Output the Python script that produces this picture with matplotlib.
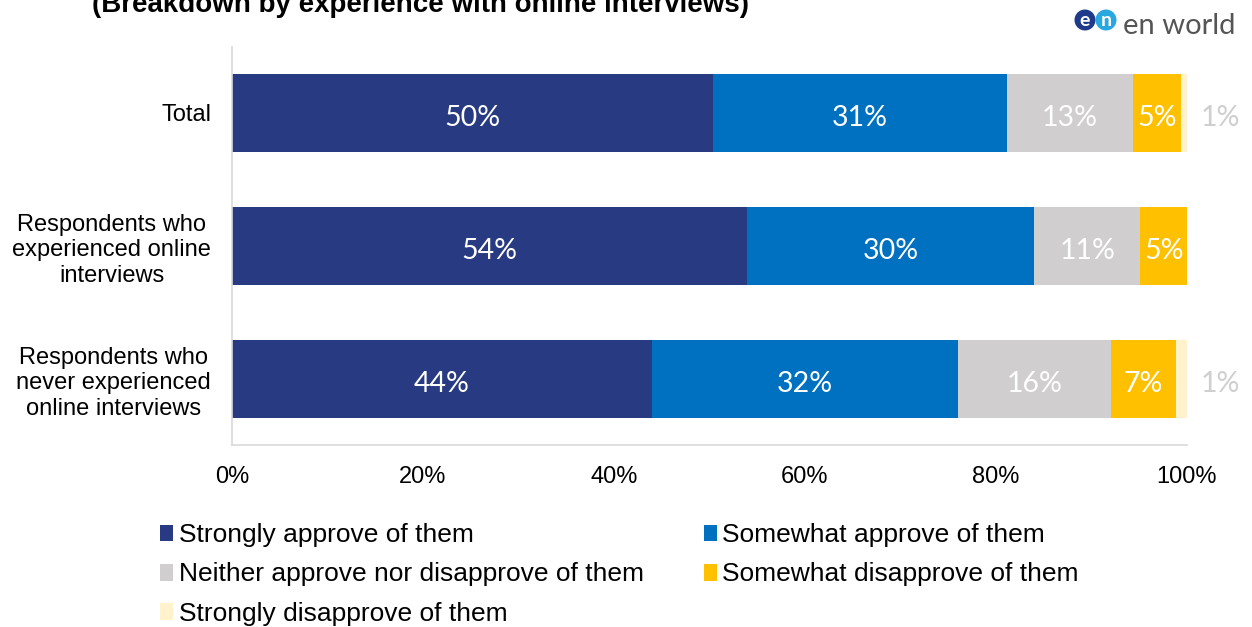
import matplotlib
matplotlib.use("Agg")
import matplotlib.pyplot as plt
from matplotlib.patches import Ellipse, Patch
from matplotlib.transforms import offset_copy
import numpy as np

# ---- data ----
categories = [
    "Total",
    "Respondents who\nexperienced online\ninterviews",
    "Respondents who\nnever experienced\nonline interviews",
]
series_names = [
    "Strongly approve of them",
    "Somewhat approve of them",
    "Neither approve nor disapprove of them",
    "Somewhat disapprove of them",
    "Strongly disapprove of them",
]
strongly_approve = [50.4, 53.9, 44.0]
somewhat_approve = [30.7, 30.1, 32.0]
neither = [13.2, 11.1, 16.0]
somewhat_disapprove = [5.1, 4.9, 6.9]
strongly_disapprove = [0.6, 0.0, 1.1]
x_ticks = [0, 20, 40, 60, 80, 100]
x_tick_labels = ["0%", "20%", "40%", "60%", "80%", "100%"]

series = [strongly_approve, somewhat_approve, neither,
          somewhat_disapprove, strongly_disapprove]
colors = ["#283B82", "#0070C0", "#D0CECE", "#FFC000", "#FFF2CC"]

W, H = 1252, 627
fig = plt.figure(figsize=(W / 100, H / 100), dpi=100)
ax = fig.add_axes([232 / W, 1 - 445 / H, (1187 - 232) / W, (445 - 47) / H])

# value labels sit a few points below the geometric centre of each bar
label_tf = offset_copy(ax.transData, fig=fig, x=0, y=-3.5, units="points")
ypos = np.arange(len(categories))
left = np.zeros(len(categories))
label_font = dict(family=["Lato", "DejaVu Sans"], fontsize=20.5)
for vals, col, name in zip(series, colors, series_names):
    vals = np.array(vals)
    ax.barh(ypos, vals, left=left, height=0.586, color=col, label=name,
            edgecolor="none")
    for i, v in enumerate(vals):
        if v <= 0:
            continue
        txt = f"{v:.0f}%"
        if v >= 2:
            ax.text(left[i] + v / 2, ypos[i], txt, ha="center", va="center",
                    color="white", transform=label_tf, **label_font)
        else:
            ax.text(left[i] + v + 1.4, ypos[i], txt, ha="left", va="center",
                    color="#D0CECE", transform=label_tf, **label_font)
    left += vals

ax.set_xlim(0, 100)
ax.set_ylim(2.496, -0.496)
ax.set_yticks(ypos)
ax.set_yticklabels(categories, family="Liberation Sans", fontsize=17,
                   ha="right", multialignment="center")
ax.set_xticks(x_ticks)
ax.set_xticklabels(x_tick_labels, family="Liberation Sans", fontsize=17)
ax.tick_params(axis="both", length=0)
ax.tick_params(axis="x", pad=15)
ax.tick_params(axis="y", pad=15)
for s in ["top", "right"]:
    ax.spines[s].set_visible(False)
for s in ["left", "bottom"]:
    ax.spines[s].set_color("#D9D9D9")
    ax.spines[s].set_linewidth(1.2)

# legend, filled row by row
order = [0, 2, 4, 1, 3]
handles = [Patch(facecolor=colors[k], edgecolor="none") for k in order]
labels = [series_names[k] for k in order]
leg = fig.legend(handles, labels, loc="upper left",
                 bbox_to_anchor=(147 / W, 1 - 510 / H), ncol=2,
                 frameon=False, prop=dict(family="Liberation Sans", size=19),
                 handlelength=0.5, handleheight=0.6, handletextpad=0.2,
                 columnspacing=2.27, labelspacing=0.58, borderpad=0)

# title (partially above the canvas)
fig.text(92 / W, 1 - 12 / H,
         "(Breakdown by experience with online interviews)",
         family="Liberation Sans", fontweight="bold", fontsize=20,
         ha="left", va="baseline", color="black")

# logo
for cx, col, ch in [(1085, "#1F3A8A", "e"), (1106, "#29A8E0", "n")]:
    fig.patches.append(Ellipse((cx / W, 1 - 20 / H), 21 / W, 21 / H,
                               transform=fig.transFigure, facecolor=col,
                               edgecolor="none"))
    fig.text(cx / W, 1 - 21 / H, ch, ha="center", va="center",
             color="white", fontsize=14, fontweight="bold",
             family=["Lato", "DejaVu Sans"])
fig.text(1123 / W, 1 - 34 / H, "en world", ha="left", va="baseline",
         color="#555555", fontsize=21, family=["Lato", "DejaVu Sans"])

fig.savefig("out.png", dpi=100)
